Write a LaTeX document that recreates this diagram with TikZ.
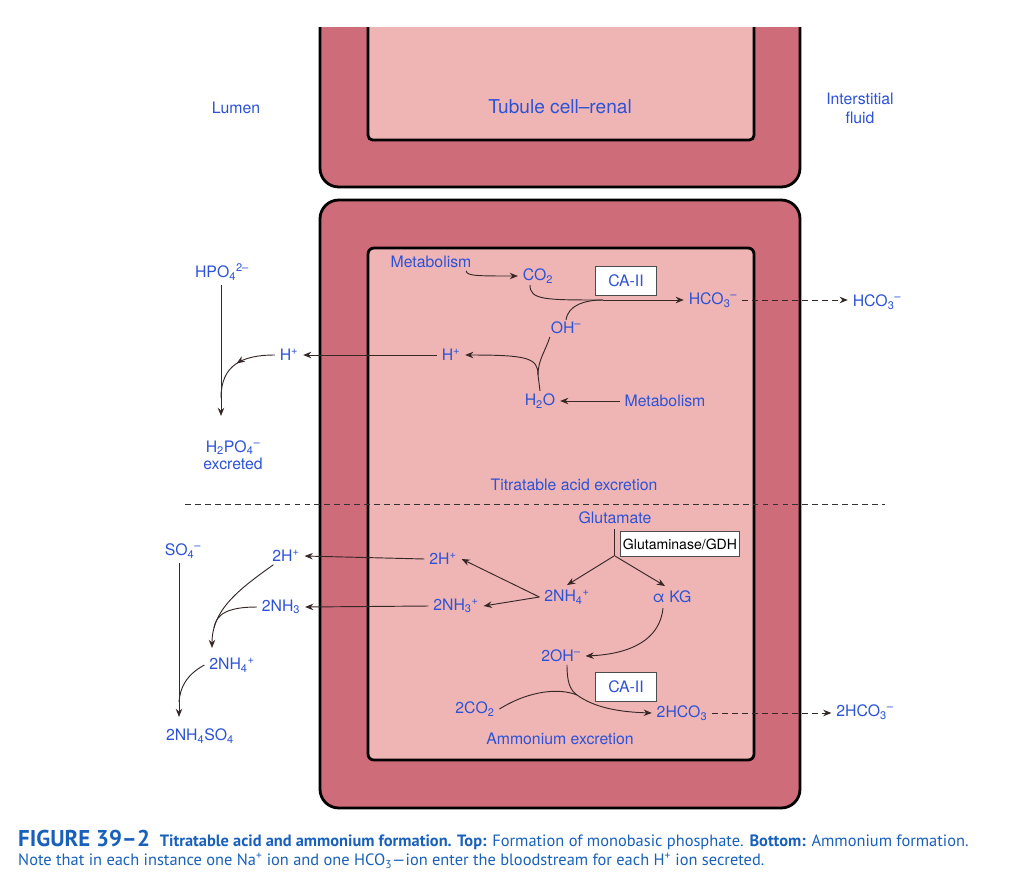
\documentclass[tikz,border=0pt]{standalone}
\usepackage{fontspec}
\setmainfont{TeX Gyre Heros}
\newfontfamily\capfont[Ligatures=TeX]{PT Sans}
\usepackage{xcolor}
\usepackage{tikz}
\usetikzlibrary{positioning,calc,arrows.meta,decorations.markings}

\definecolor{wallred}{RGB}{206,108,122}
\definecolor{cellpink}{RGB}{239,181,181}
\definecolor{ionblue}{RGB}{44,82,214}
\definecolor{capblue}{RGB}{24,96,186}
\definecolor{inkline}{RGB}{55,40,40}

\tikzset{
  lbl/.style={text=ionblue, font=\fontsize{13.5}{16}\selectfont, inner sep=4pt},
  enz/.style={draw=black!70, fill=white, line width=0.8pt, text=ionblue, font=\fontsize{13.5}{16}\selectfont, minimum width=52, minimum height=24, inner sep=2pt},
  link/.style={draw=inkline, line width=0.8pt},
  arr/.style={link, -{Stealth[length=7pt,width=5.5pt]}},
  midarr/.style={link, postaction={decorate}, decoration={markings, mark=at position 0.5 with {\arrow{Stealth[length=7pt,width=5.5pt]}}}},
  wall/.style={fill=wallred, draw=black, line width=2.4pt},
  cellin/.style={fill=cellpink, draw=black, line width=2.4pt},
}

\begin{document}
\begin{tikzpicture}[x=0.03cm, y=-0.03cm]
        \useasboundingbox (0,0) rectangle (1024,888);
        % top cell, cut off at the edge
        \filldraw[wall, rounded corners=16] (320,27) -- (320,187) -- (800,187) -- (800,27);
        \filldraw[cellin, rounded corners=4] (368,27) -- (368,140) -- (754,140) -- (754,27);
        % bottom cell
        \filldraw[wall, rounded corners=16] (320,200) rectangle (800,808);
        \filldraw[cellin, rounded corners=5] (368,248) rectangle (754,760);
        \draw[black!80, line width=0.7pt, dash pattern=on 5pt off 3.5pt] (185,504) -- (885,504);

        % Labels
        \node[lbl] (lumen) at (236,108) {Lumen};
        \node[lbl, font=\fontsize{16.3}{18}\selectfont] (cell) at (560,107) {Tubule cell--renal};
        \node[lbl, align=center] (inter) at (860,108) {Interstitial\\fluid};

        % titratable acid
        \node[lbl] (hpo) at (222,272) {HPO\textsubscript{4}\textsuperscript{2--}};
        \node[lbl] (metaA) at (431,262) {Metabolism};
        \node[lbl] (co2) at (538,276) {CO\textsubscript{2}};
        \node[enz] (caA) at (626,281) {CA-II};
        \node[lbl] (hco) at (713,300) {HCO\textsubscript{3}\textsuperscript{--}};
        \node[lbl] (hcoOut) at (877,302) {HCO\textsubscript{3}\textsuperscript{--}};
        \node[lbl] (oh) at (566,328) {OH\textsuperscript{--}};
        \node[lbl] (hIn) at (451,355) {H\textsuperscript{+}};
        \node[lbl] (hOut) at (289,355) {H\textsuperscript{+}};
        \node[lbl] (water) at (540,401) {H\textsubscript{2}O};
        \node[lbl] (metaB) at (665,401) {Metabolism};
        \node[lbl, align=center, font=\fontsize{13.5}{14.5}\selectfont] (hpoEx) at (233,455) {H\textsubscript{2}PO\textsubscript{4}\textsuperscript{--}\\excreted};
        \node[lbl] (titr) at (574,485) {Titratable acid excretion};

        % ammonium
        \node[lbl] (glu) at (615,518) {Glutamate};
        \node[enz, text=black, font=\fontsize{12}{14}\selectfont, minimum height=22] (gdh) at (680,544) {Glutaminase/GDH};
        \node[lbl] (so4) at (183,551) {SO\textsubscript{4}\textsuperscript{--}};
        \node[lbl] (hhOut) at (286,556) {2H\textsuperscript{+}};
        \node[lbl] (hhIn) at (443,559) {2H\textsuperscript{+}};
        \node[lbl] (nh4In) at (567,597) {2NH\textsubscript{4}\textsuperscript{+}};
        \node[lbl] (akg) at (672,597) {α KG};
        \node[lbl] (nh3Out) at (281,607) {2NH\textsubscript{3}};
        \node[lbl] (nh3In) at (456,606) {2NH\textsubscript{3}\textsuperscript{+}};
        \node[lbl] (nh4Out) at (232,665) {2NH\textsubscript{4}\textsuperscript{+}};
        \node[lbl] (ohh) at (561,656) {2OH\textsuperscript{--}};
        \node[enz] (caB) at (626,687) {CA-II};
        \node[lbl] (co2b) at (475,709) {2CO\textsubscript{2}};
        \node[lbl] (hcob) at (682,713) {2HCO\textsubscript{3}};
        \node[lbl] (hcobOut) at (865,712) {2HCO\textsubscript{3}\textsuperscript{--}};
        \node[lbl] (nh4so4) at (200,736) {2NH\textsubscript{4}SO\textsubscript{4}};
        \node[lbl] (ammo) at (560,739) {Ammonium excretion};

        % join points
        \coordinate (jA) at (603,300);
        \coordinate (jB) at (538,375);
        \coordinate (jP) at (221,398);
        \coordinate (pEnd) at (221,416);
        \coordinate (jG) at (614,556);
        \coordinate (jH) at (577,695);
        \coordinate (jN) at (212,648);
        \coordinate (jS) at (214,628);
        \coordinate (sEnd) at (179,717);
        \coordinate (jT) at (179,702);

        % top reactions
        \draw[arr] ($(metaA.south east)+(-10,-2)$) .. controls (466,276) and (478,276) .. (co2.west);
        \draw[link] ($(co2.south)+(-8,-3)$) .. controls (530,300) and (545,300) .. (jA);
        \draw[arr] (jA) -- (hco.west);
        \draw[link] ($(oh.north)+(0,3)$) .. controls (568,305) and (585,300) .. (jA);
        \draw[link] ($(water.north)+(0,2)$) -- (jB);
        \draw[arr] (jB) .. controls (538,358) and (528,355) .. (hIn.east);
        \draw[link] ($(oh.south west)+(4,-2)$) .. controls (545,352) and (538,360) .. (jB);
        \draw[arr] (metaB.west) -- (water.east);
        \draw[arr] (hIn.west) -- (hOut.east);
        \draw[arr, dash pattern=on 5pt off 3.5pt] (hco.east) -- (hco.east -| hcoOut.west);
        \draw[arr] (hpo.south -| jP) -- (pEnd);
        \draw[midarr] (hOut.west) .. controls (242,355) and (221,365) .. (jP);

        % bottom reactions
        \draw[arr] (hhIn.west) -- (hhOut.east);
        \draw[arr] (nh3In.west) -- (nh3Out.east);
        \draw[arr] (nh4In.west) -- (hhIn.east);
        \draw[arr] (nh4In.west) -- (nh3In.east);
        \draw[link] (glu.south -| jG) -- (jG);
        \draw[arr] (jG) -- (nh4In.north);
        \draw[arr] ($(jG)+(1,0)$) -- ($(akg.north)+(-7,0)$);
        \draw[arr] ($(akg.south)+(-9,0)$) .. controls (660,640) and (630,654) .. (ohh.east);
        \draw[link] ($(ohh.south)+(6,-2)$) .. controls (567,682) and (570,690) .. (jH);
        \draw[arr] (jH) .. controls (595,708) and (620,712) .. (hcob.west);
        \draw[link] (co2b.east) .. controls (530,690) and (560,688) .. (jH);
        \draw[arr, dash pattern=on 5pt off 3.5pt] (hcob.east) -- (hcob.east -| hcobOut.west);
        \draw[arr] ($(hhOut.south west)+(6,-2)$) .. controls (238,590) and (212,610) .. (jN);
        \draw[link] (nh3Out.west) .. controls (228,607) and (216,614) .. (jS);
        \draw[arr] (so4.south -| sEnd) -- (sEnd);
        \draw[link] (nh4Out.west) .. controls (186,675) and (180,688) .. (jT);

        % caption
        \node[anchor=west, inner sep=0, text=capblue, font=\capfont\fontsize{14}{16}\selectfont] (capA) at (18,840)
          {{\bfseries\fontsize{19.5}{20}\selectfont FIGURE 39–2}\hspace{0.6em}\textbf{Titratable acid and ammonium formation. Top:} Formation of monobasic phosphate. \textbf{Bottom:} Ammonium formation.};
        \node[anchor=west, inner sep=0, text=capblue, font=\capfont\fontsize{14}{16}\selectfont] (capB) at (18,861)
          {Note that in each instance one Na\textsuperscript{+} ion and one HCO\textsubscript{3}—ion enter the bloodstream for each H\textsuperscript{+} ion secreted.};
    \end{tikzpicture}
\end{document}
